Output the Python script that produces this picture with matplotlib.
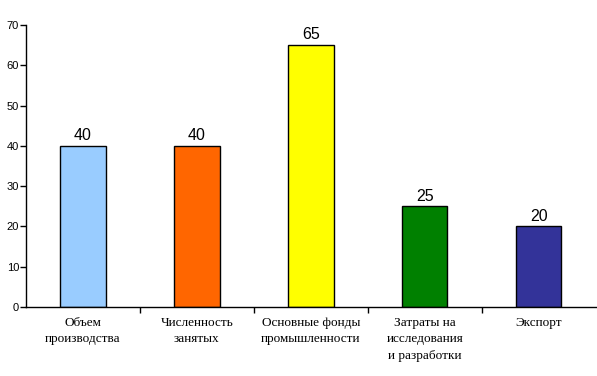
import numpy as np
import matplotlib
matplotlib.use('Agg')
import matplotlib.pyplot as plt

## -- data
categories = ['Объем\nпроизводства', 'Численность\nзанятых',
              'Основные фонды\nпромышленности',
              'Затраты на\nисследования\nи разработки', 'Экспорт']
values = [40, 40, 65, 25, 20]
colors = ['#99CCFF', '#FF6600', '#FFFF00', '#008000', '#333399']
yticks = [0, 10, 20, 30, 40, 50, 60, 70]

fig = plt.figure(figsize=(5.97, 3.76), dpi=100)
ax = fig.add_axes([0.0436, 0.1835, 0.954, 0.75])

x = np.arange(len(values))
ax.bar(x, values, width=0.4, color=colors, edgecolor='black', linewidth=1)

for xi, v in zip(x, values):
    ax.annotate(str(v), (xi, v), xytext=(0, 2), textcoords='offset points',
                ha='center', va='bottom', fontsize=11.5, family='Liberation Sans')

ax.set_xlim(-0.5, 4.5)
ax.set_ylim(0, 70)
ax.set_yticks(yticks)
ax.set_yticklabels([str(t) for t in yticks], fontsize=8, family='Liberation Sans')
ax.tick_params(axis='y', direction='out', length=4, width=1, pad=1)

# category labels centred, tick marks between categories
ax.set_xticks(x)
ax.set_xticklabels(categories, fontsize=9.5, family='Liberation Serif',
                   linespacing=1.5, va='top')
ax.tick_params(axis='x', length=0, pad=7)
ax.set_xticks(np.arange(0.5, 4.5, 1.0), minor=True)
ax.tick_params(axis='x', which='minor', direction='out', length=4, width=1)

for s in ['top', 'right']:
    ax.spines[s].set_visible(False)
for s in ['left', 'bottom']:
    ax.spines[s].set_linewidth(1)

fig.savefig('out.png', dpi=100)
